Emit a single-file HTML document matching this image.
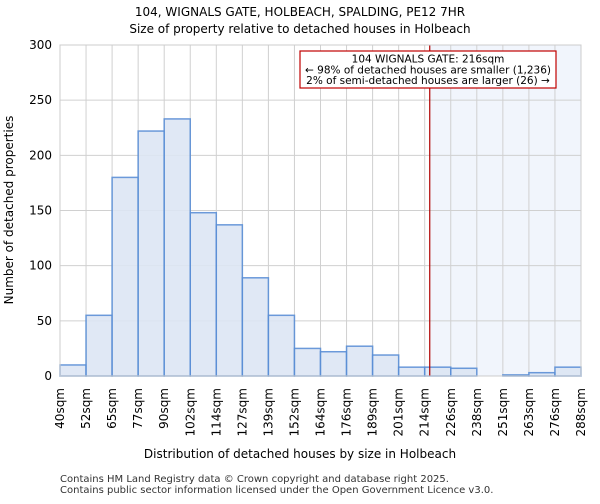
<!DOCTYPE html>
<html><head><meta charset="utf-8"><style>
body{margin:0;background:#fff;font-family:"DejaVu Sans","Liberation Sans",sans-serif;}
</style></head><body>
<svg id="c" width="600" height="500" xmlns="http://www.w3.org/2000/svg" font-family="DejaVu Sans, Liberation Sans, sans-serif">
<text x="300" y="16" text-anchor="middle" font-size="12">104, WIGNALS GATE, HOLBEACH, SPALDING, PE12 7HR</text>
<text x="300" y="33" text-anchor="middle" font-size="12">Size of property relative to detached houses in Holbeach</text>
<g id="plot"></g>
<text x="300" y="458" text-anchor="middle" font-size="12">Distribution of detached houses by size in Holbeach</text>
<text transform="translate(13,210) rotate(-90)" text-anchor="middle" font-size="12">Number of detached properties</text>
<text x="60" y="482" font-size="10" fill="#333">Contains HM Land Registry data © Crown copyright and database right 2025.</text>
<text x="60" y="493" font-size="10" fill="#333">Contains public sector information licensed under the Open Government Licence v3.0.</text>
</svg>
<script>
const categories=["40sqm","52sqm","65sqm","77sqm","90sqm","102sqm","114sqm","127sqm","139sqm","152sqm","164sqm","176sqm","189sqm","201sqm","214sqm","226sqm","238sqm","251sqm","263sqm","276sqm","288sqm"];
const binStarts=[40,52.4,64.8,77.2,89.6,102,114.4,126.8,139.2,151.6,164,176.4,188.8,201.2,213.6,226,238.4,250.8,263.2,275.6];
const counts=[10,55,180,222,233,148,137,89,55,25,22,27,19,8,8,7,0,1,3,8];
const yTicks=[0,50,100,150,200,250,300];
const propertySize=216;
const binWidth=12.4, xMin=40, xMax=288;
const L=60,R=581,T=45,B=376;
const xs=v=>L+(v-xMin)/(xMax-xMin)*(R-L);
const ys=v=>B-v/300*(B-T);
const NS="http://www.w3.org/2000/svg";
const g=document.getElementById('plot');
function mk(t,a){const e=document.createElementNS(NS,t);for(const k in a)e.setAttribute(k,a[k]);g.appendChild(e);return e;}
let e;
e=mk('rect',{x:L,y:T,width:R-L,height:B-T,fill:'#fff'});


e=mk('rect',{x:xs(propertySize),y:T,width:R-xs(propertySize),height:B-T,fill:'#eef2fb',opacity:0.8});


categories.forEach((c,i)=>{const x=xs(xMin+i*binWidth);
e=mk('line',{x1:x,x2:x,y1:T,y2:B,stroke:'#d0d0d0','stroke-width':1});

});
yTicks.forEach(v=>{const y=ys(v);
e=mk('line',{x1:L,x2:R,y1:y,y2:y,stroke:'#d0d0d0','stroke-width':1});


e=mk('text',{x:L-8,y:y+4,'text-anchor':'end','font-size':12});e.textContent=v;

});
counts.forEach((v,i)=>{const x0=xs(binStarts[i]),x1=xs(binStarts[i]+binWidth);
e=mk('rect',{x:x0,y:ys(v),width:x1-x0,height:B-ys(v),fill:'#dde6f4',stroke:'#5b8fd6','stroke-width':1.5,opacity:0.9});

});
categories.forEach((c,i)=>{const x=xs(xMin+i*binWidth);
e=mk('text',{transform:`translate(${x+4},388) rotate(-90)`,'text-anchor':'end','font-size':12});e.textContent=c;

});
const px=xs(propertySize);
e=mk('line',{x1:px,x2:px,y1:T,y2:B,stroke:'#b00000','stroke-width':1.2});


e=mk('rect',{x:L,y:T,width:R-L,height:B-T,fill:'none',stroke:'#ccc'});


e=mk('rect',{x:300,y:51,width:256,height:37,fill:'#fff',stroke:'#c00000','stroke-width':1.2});


["104 WIGNALS GATE: 216sqm","← 98% of detached houses are smaller (1,236)","2% of semi-detached houses are larger (26) →"].forEach((t,i)=>{
e=mk('text',{x:428,y:62.5+i*10.8,'text-anchor':'middle','font-size':10.5});e.textContent=t;

});
</script>
</body></html>
